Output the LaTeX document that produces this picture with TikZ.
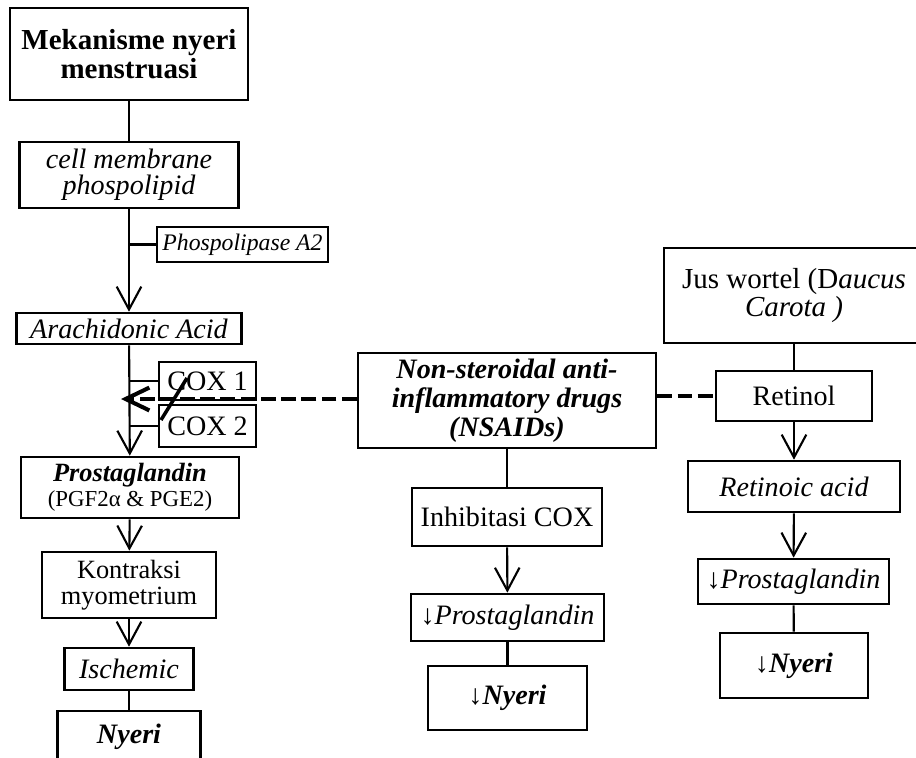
\documentclass[tikz,border=0pt]{standalone}
\usepackage{fontspec}
\setmainfont{Liberation Serif}
\usetikzlibrary{arrows.meta}

\begin{document}
\begin{tikzpicture}[every edge/.style={draw, line width=1.2pt},
                    box/.style={draw, line width=1.5pt, inner sep=0pt, align=center,
                                font=\fontsize{16}{16}\selectfont},
                    ital/.style={font=\fontsize{16}{15}\selectfont\itshape},
                    dashline/.style={line width=2.3pt, dash pattern=on 8.5pt off 3pt},
                    cutmark/.style={line width=2pt},
                    >={Straight Barb[length=13pt,width=14pt]}]
\useasboundingbox (0,0) rectangle (18.32,-15.14);
\clip (0,0) rectangle (18.32,-15.14);

% left column
\node[box, minimum width=4.76cm, minimum height=1.84cm,
      font=\fontsize{16.5}{16.5}\selectfont\bfseries] (mek) at (2.58,-1.08) {Mekanisme nyeri\\menstruasi};
\node[box, ital, minimum width=4.38cm, minimum height=1.32cm] (cmp) at (2.58,-3.50) {cell membrane\\phospolipid};
\node[box, minimum width=3.42cm, minimum height=0.70cm,
      font=\fontsize{13.5}{14}\selectfont\itshape] (pla) at (4.85,-4.89) {Phospolipase A2};
\node[box, ital, minimum width=4.50cm, minimum height=0.62cm] (ara) at (2.58,-6.57) {Arachidonic Acid};
\node[box, minimum width=1.94cm, minimum height=0.76cm] (coxa) at (4.15,-7.62) {COX 1};
\node[box, minimum width=1.94cm, minimum height=0.84cm] (coxb) at (4.15,-8.52) {COX 2};
\node[box, minimum width=4.36cm, minimum height=1.22cm,
      font=\fontsize{15}{14}\selectfont] (pg) at (2.60,-9.75)
      {\textbf{\textit{Prostaglandin}}\\{\fontsize{13}{14}\selectfont (PGF2α \& PGE2)}};
\node[box, minimum width=3.48cm, minimum height=1.32cm,
      font=\fontsize{15}{14.5}\selectfont] (kon) at (2.58,-11.70) {Kontraksi\\myometrium};
\node[box, ital, minimum width=2.58cm, minimum height=0.84cm] (isc) at (2.58,-13.38) {Ischemic};
\node[box, minimum width=2.86cm, minimum height=1.04cm,
      font=\fontsize{16}{16}\selectfont\bfseries\itshape] (nye) at (2.58,-14.74) {Nyeri};

% middle column
\node[box, minimum width=5.96cm, minimum height=1.90cm,
      font=\fontsize{16}{16.5}\selectfont\bfseries\itshape] (nsa) at (10.14,-8.01)
      {Non-steroidal anti-\\inflammatory drugs\\(NSAIDs)};
\node[box, minimum width=3.80cm, minimum height=1.16cm] (inh) at (10.14,-10.34) {Inhibitasi COX};
\node[box, minimum width=3.86cm, minimum height=0.94cm] (pgm) at (10.15,-12.35) {↓\textit{Prostaglandin}};
\node[box, minimum width=3.18cm, minimum height=1.28cm] (nym) at (10.15,-13.96) {↓\textbf{\textit{Nyeri}}};

% right column
\node[box, minimum width=5.20cm, minimum height=1.90cm,
      font=\fontsize{16.5}{16}\selectfont] (jus) at (15.88,-5.91) {Jus wortel (D\textit{aucus}\\\textit{Carota )}};
\node[box, minimum width=3.12cm, minimum height=1.00cm] (ret) at (15.88,-7.92) {Retinol};
\node[box, ital, minimum width=4.24cm, minimum height=1.02cm] (rea) at (15.88,-9.73) {Retinoic acid};
\node[box, minimum width=3.82cm, minimum height=0.90cm] (pgr) at (15.87,-11.63) {↓\textit{Prostaglandin}};
\node[box, minimum width=2.96cm, minimum height=1.30cm] (nyr) at (15.88,-13.31) {↓\textbf{\textit{Nyeri}}};

\coordinate (tip) at (2.42,-7.98);
\coordinate (cuta) at (3.74,-7.56);
\coordinate (cutb) at (3.22,-8.40);

\path[->]
(cmp) edge (ara)
(ara) edge (pg)
(pg) edge (kon)
(kon) edge (isc)
(inh) edge (pgm)
(ret) edge (rea)
(rea) edge (pgr);

\path
(mek) edge (cmp)
(isc) edge (nye)
(nsa) edge (inh)
(pgm) edge (nym)
(jus) edge (ret)
(pgr) edge (nyr)
(pla.west) edge (pla.west -| cmp.south)
(coxa.west) edge (coxa.west -| ara.south)
(coxb.west) edge (coxb.west -| ara.south);

% inhibition
\path
(nsa.west |- tip) edge[dashline, -{Straight Barb[length=13.5pt,width=13pt]}] (tip)
(ret.west -| nsa.east) edge[dashline] (ret.west);
\draw[cutmark] (cuta) -- (cutb);
\end{tikzpicture}
\end{document}
